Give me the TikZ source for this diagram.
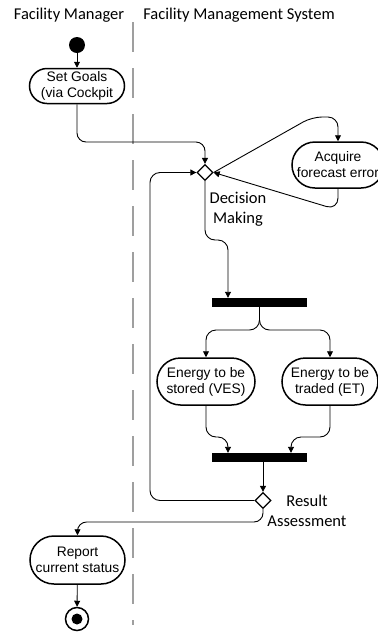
\documentclass[tikz,border=0pt]{standalone}
\usepackage{fontspec}
\setmainfont{Liberation Sans}
\newfontfamily\calib{Carlito}
\usetikzlibrary{shapes.geometric,arrows.meta,calc}
\begin{document}
\begin{tikzpicture}[x=1pt,y=-1pt,
  act/.style={draw,line width=1.5pt,rectangle,inner sep=0pt,align=center,
    font=\fontsize{13.8}{16}\selectfont},
  bar/.style={fill=black,draw=none,rectangle,inner sep=0pt,minimum width=95pt,minimum height=9pt},
  dec/.style={draw,line width=1.3pt,diamond,inner sep=0pt,minimum width=16pt,minimum height=16pt},
  lab/.style={font=\calib\fontsize{16.5}{19.5}\selectfont,align=center},
  arr/.style={-{Triangle[length=6pt,width=6pt]},line width=0.9pt}]
\useasboundingbox (0,0) rectangle (378,633);
% swimlane headers and separator
\node[lab] (h1) at (69,15) {Facility Manager};
\node[lab] (h2) at (239,15) {Facility Management System};
\draw[gray!75,line width=1.8pt,dash pattern=on 30pt off 16pt] (133,22) -- (133,625);
% nodes
\node[circle,fill=black,inner sep=0pt,minimum size=16pt] (start) at (77,45) {};
\node[act,minimum width=95pt,minimum height=35pt,rounded corners=17.5pt] (goals) at (77,86) {Set Goals\\(via Cockpit};
\node[dec] (dm) at (205,172.5) {};
\node[act,minimum width=92pt,minimum height=46pt,rounded corners=23pt] (acq) at (338,165) {Acquire\\forecast error};
\node[lab] (dml) at (238,209) {Decision\\Making};
\node[bar] (fork) at (259.5,302.5) {};
\node[act,minimum width=98pt,minimum height=47pt,rounded corners=23.5pt] (ves) at (206,381.5) {Energy to be\\stored (VES)};
\node[act,minimum width=96pt,minimum height=47pt,rounded corners=23.5pt] (et) at (330,381.5) {Energy to be\\traded (ET)};
\node[bar] (join) at (259.5,457.5) {};
\node[dec] (res) at (263,500.5) {};
\node[lab] (resl) at (307,511) {Result\\Assessment};
\node[act,minimum width=95pt,minimum height=48pt,rounded corners=24pt] (rep) at (77.5,560) {Report\\current status};
\node[circle,draw,line width=1.5pt,inner sep=0pt,minimum size=23pt] (end) at (77,619) {};
\node[circle,fill=black,inner sep=0pt,minimum size=11pt] (endin) at (end.center) {};
% helper coordinates
\coordinate (c1) at (205,142);
\coordinate (c2) at (150,172.5);
\coordinate (c3) at (312,117);
\coordinate (c4) at (338,117);
\coordinate (c5) at (338,210);
\coordinate (c6) at (205,240);
\coordinate (c7) at (228,240);
\coordinate (sp) at (259.5,330);
\coordinate (c8) at (206,437);
\coordinate (c9) at (228,437);
\coordinate (c10) at (330,437);
\coordinate (c11) at (291,437);
\coordinate (c12) at (263,522);
% connectors
\draw[arr] (start) -- (goals);
\draw[arr,rounded corners=9pt] (goals.south) |- (c1) -- (dm.north);
\draw[arr,rounded corners=10pt] (dm.east) -- (c3) -- (c4) -- (acq.north);
\draw[arr,rounded corners=12pt] (acq.south) -- (c5) -- (dm.east);
\draw[arr,rounded corners=10pt] (res.west) -| (c2) -- (dm.west);
\draw[arr,rounded corners=10pt] (dm.south) -- (c6) -- (c7) -- (c7 |- fork.north);
\draw[arr,rounded corners=10pt] (fork.south) |- (ves.north |- sp) -- (ves.north);
\draw[arr,rounded corners=10pt] (fork.south) |- (et.north |- sp) -- (et.north);
\draw[arr,rounded corners=10pt] (ves.south) -- (c8) -- (c9) -- (c9 |- join.north);
\draw[arr,rounded corners=10pt] (et.south) -- (c10) -- (c11) -- (c11 |- join.north);
\draw[arr] (join.south -| res.north) -- (res.north);
\draw[arr,rounded corners=9pt] (res.south) -- (c12) -| (rep.north);
\draw[arr] (rep) -- (end);
\end{tikzpicture}
\end{document}
